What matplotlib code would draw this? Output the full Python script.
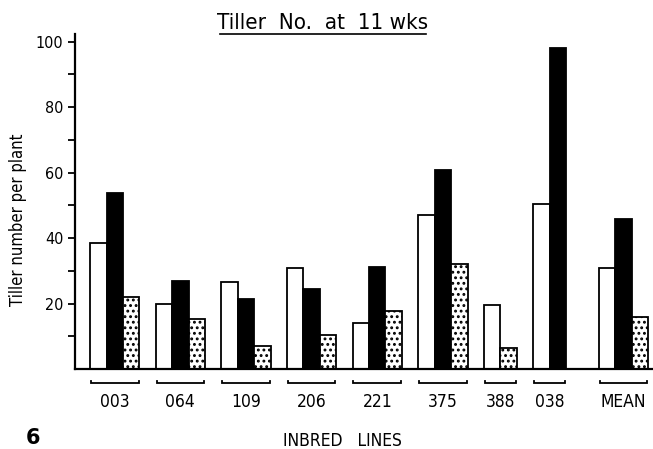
import matplotlib
matplotlib.use('Agg')
import matplotlib.pyplot as plt

# Tiller number per plant at 11 weeks
lines = ['003', '064', '109', '206', '221', '375', '388', '038', 'MEAN']
open_bars = [38.6, 19.7, 26.7, 30.7, 14.1, 47.0, 19.6, 50.4, 30.7]
black_bars = [53.7, 26.9, 21.5, 24.5, 31.2, 60.8, None, 98.1, 45.7]
dotted_bars = [22.1, 15.2, 7.0, 10.4, 17.8, 32.0, 6.5, None, 15.8]

plt.rcParams['font.family'] = 'DejaVu Sans'
plt.rcParams['font.stretch'] = 'condensed'
plt.rcParams['hatch.linewidth'] = 1.3

fig = plt.figure(figsize=(6.53, 4.49), dpi=100)
ax = fig.add_axes([75 / 653, 80 / 449, 578 / 653, 335 / 449])

styles = [dict(facecolor='white', edgecolor='black'),
          dict(facecolor='black', edgecolor='black'),
          dict(facecolor='white', edgecolor='black', hatch='...')]

x = 0
for i, name in enumerate(lines):
    if name == 'MEAN':
        x += 1
    vals = [open_bars[i], black_bars[i], dotted_bars[i]]
    start = x
    for v, st in zip(vals, styles):
        if v is None:
            continue
        ax.bar(x, v, width=1.0, align='edge', linewidth=1.3, **st)
        x += 1
    end = x
    # bracket under each group
    ax.plot([start + 0.05, start + 0.05, end - 0.05, end - 0.05],
            [-3.6, -4.4, -4.4, -3.6], color='black', lw=1.3,
            clip_on=False, solid_joinstyle='miter')
    ax.text((start + end) / 2, -10.2, name, ha='center', va='center',
            fontsize=12.5)
    x += 1

ax.set_xlim(-0.92, 34.3)
ax.set_ylim(0, 102.3)

for s in ['top', 'right']:
    ax.spines[s].set_visible(False)
ax.spines['left'].set_linewidth(1.6)
ax.spines['bottom'].set_linewidth(1.6)

ax.set_xticks([])
ax.set_yticks([20, 40, 60, 80, 100])
ax.set_yticks([10, 30, 50, 70, 90], minor=True)
ax.tick_params(axis='y', which='major', direction='out', length=5,
               width=1.3, labelsize=11.5)
ax.tick_params(axis='y', which='minor', direction='out', length=5,
               width=1.3)

fig.text(18 / 653, 1 - 220 / 449, 'Tiller number per plant', rotation=90,
         ha='center', va='center', fontsize=12)

fig.text(323 / 653, 1 - 23 / 449, 'Tiller  No.  at  11 wks',
         ha='center', va='center', fontsize=16)
fig.add_artist(plt.Line2D([220 / 653, 426 / 653], [1 - 34 / 449, 1 - 34 / 449],
                          color='black', lw=1.2))

fig.text(342 / 653, 1 - 441 / 449, 'INBRED   LINES', ha='center',
         va='center', fontsize=12.5)
fig.text(33 / 653, 1 - 438 / 449, '6', ha='center', va='center',
         fontsize=15, fontweight='bold', fontstretch='normal')

fig.savefig('out.png', dpi=100)
